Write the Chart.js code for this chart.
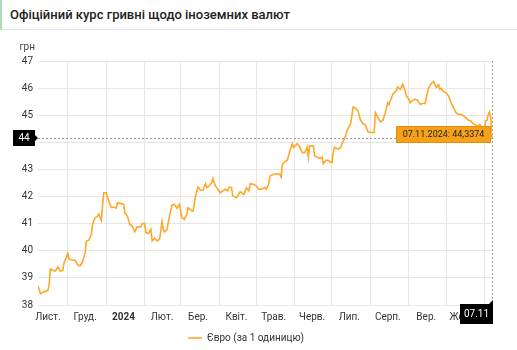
<!DOCTYPE html>
<html>
<head>
<meta charset="utf-8">
<script src="https://cdn.jsdelivr.net/npm/chart.js@4.4.1/dist/chart.umd.min.js"></script>
<style>
  html, body { margin: 0; padding: 0; background: #fff; font-family: Roboto, sans-serif; overflow: hidden; }
  .head {
    height: 29px; line-height: 29px; padding-left: 8px;
    border-left: 2px solid #a8dcb8; border-bottom: 1px solid #e6e6e6;
    box-shadow: 0 1px 2px rgba(0,0,0,0.06);
    font-size: 13px; font-weight: 500; color: #222;
  }
  .chart { position: absolute; left: 0; top: 31px; width: 517px; height: 322px; }
</style>
</head>
<body>
<div class="head">Офіційний курс гривні щодо іноземних валют</div>
<div class="chart"><canvas id="eurRateChart"></canvas></div>
<script>
// EUR official rate, days counted from startDate
const startDate = '2023-11-07';
const dayOffsets = [
  0, 2, 5, 8, 9, 10, 12, 14, 16, 18, 20, 21, 24, 25, 28, 30, 32, 34, 36, 38,
  39, 41, 43, 44, 46, 48, 49, 51, 53, 55, 56, 57, 59, 61, 63, 64, 67, 69, 70, 72,
  74, 76, 78, 80, 83, 84, 86, 87, 89, 91, 92, 94, 96, 98, 100, 101, 102, 104, 106, 108,
  110, 112, 114, 116, 118, 120, 121, 124, 125, 127, 129, 131, 133, 135, 136, 138, 140, 141, 143, 144,
  147, 149, 151, 153, 154, 156, 157, 160, 161, 163, 166, 168, 170, 171, 174, 176, 178, 180, 183, 184,
  186, 187, 190, 192, 195, 196, 197, 199, 201, 203, 205, 206, 209, 211, 213, 215, 217, 218, 219, 222,
  223, 225, 227, 229, 230, 232, 234, 235, 237, 238, 239, 242, 244, 246, 248, 249, 252, 253, 254, 256,
  258, 260, 262, 264, 266, 269, 271, 272, 274, 276, 278, 280, 282, 283, 286, 289, 290, 292, 294, 296,
  297, 299, 300, 302, 304, 306, 308, 310, 312, 313, 315, 317, 319, 320, 321, 323, 324, 325, 327, 329,
  331, 333, 335, 337, 339, 341, 343, 345, 347, 349, 350, 352, 354, 356, 358, 360, 361, 362, 363, 364,
  365, 366
];
const rates = [
  38.70, 38.42, 38.49, 38.54, 38.76, 39.32, 39.28, 39.25, 39.40, 39.25, 39.28, 39.56, 39.91, 39.69, 39.65, 39.65, 39.48, 39.45, 39.60, 39.93,
  40.36, 40.39, 40.61, 40.98, 41.22, 41.28, 41.35, 41.12, 42.14, 42.14, 41.96, 41.84, 41.59, 41.61, 41.57, 41.77, 41.74, 41.71, 41.40, 41.28,
  40.98, 40.91, 40.70, 40.88, 40.88, 41.00, 41.00, 40.67, 40.64, 40.79, 40.36, 40.46, 40.36, 40.42, 41.07, 40.79, 40.70, 40.79, 41.28, 41.69,
  41.71, 41.57, 41.71, 41.22, 41.16, 41.35, 41.59, 41.47, 41.47, 42.02, 42.35, 42.23, 42.23, 42.47, 42.33, 42.39, 42.51, 42.67, 42.39, 42.33,
  42.14, 42.21, 42.27, 42.21, 42.35, 42.33, 42.02, 41.96, 42.02, 42.18, 42.08, 42.33, 42.21, 42.47, 42.45, 42.39, 42.27, 42.27, 42.33, 42.27,
  42.45, 42.76, 42.82, 42.84, 42.82, 42.72, 43.19, 43.29, 43.34, 43.68, 43.95, 43.81, 43.95, 43.83, 43.62, 43.62, 43.83, 43.46, 43.87, 43.87,
  43.50, 43.46, 43.41, 43.46, 43.21, 43.34, 43.34, 43.29, 43.25, 43.62, 43.81, 43.75, 43.81, 44.05, 44.23, 44.42, 44.69, 44.97, 45.30, 45.26,
  45.16, 44.81, 44.69, 44.64, 44.39, 44.36, 44.36, 45.09, 44.91, 44.76, 44.81, 45.09, 45.46, 45.40, 45.77, 45.92, 46.04, 45.95, 46.14, 45.89,
  45.71, 45.59, 45.46, 45.55, 45.59, 45.55, 45.40, 45.43, 45.43, 45.65, 46.02, 46.17, 46.24, 46.14, 46.02, 46.12, 45.95, 45.99, 45.87, 45.83,
  45.71, 45.46, 45.28, 45.09, 45.03, 45.03, 44.97, 44.91, 44.81, 44.79, 44.72, 44.66, 44.60, 44.66, 44.54, 44.57, 44.79, 44.81, 45.03, 45.13,
  44.91, 44.3374
];
const monthLabels = ['Лист.', 'Груд.', '2024', 'Лют.', 'Бер.', 'Квіт.', 'Трав.', 'Черв.', 'Лип.', 'Серп.', 'Вер.', 'Жовт.'];
const seriesLabel = 'Євро (за 1 одиницю)';
const yMin = 38, yMax = 47;

const DAY = 86400000;
const t0 = Date.parse(startDate + 'T00:00:00Z');
const dayOf = (y, m, d) => Math.round((Date.UTC(y, m, d) - t0) / DAY);
// grid at month starts, labels in the middle of each month
const monthStarts = [], labelDays = [];
for (let i = 0; i < monthLabels.length; i++) {
  const y = 2023 + Math.floor((10 + i) / 12), m = (10 + i) % 12;
  labelDays.push(dayOf(y, m, 15));
  monthStarts.push(dayOf(y, m + 1, 1));
}
const lastDay = dayOffsets[dayOffsets.length - 1];

const fmtDate = (off) => {
  const d = new Date(t0 + off * DAY);
  const p = n => String(n).padStart(2, '0');
  return p(d.getUTCDate()) + '.' + p(d.getUTCMonth() + 1) + '.' + d.getUTCFullYear();
};

const orange = '#ffa726';

// crosshair + tooltip on the last point, drawn by hand
const hoverPlugin = {
  id: 'hover',
  afterDraw(chart) {
    const { ctx, chartArea: a, scales } = chart;
    const pts = chart.getDatasetMeta(0).data;
    const p = pts[pts.length - 1];
    const i = rates.length - 1;
    const cy = Math.round(p.y) + 5; // mouse sits a bit under the point
    const px = Math.round(p.x);
    ctx.save();

    ctx.strokeStyle = '#a0a0a0';
    ctx.lineWidth = 1;
    ctx.setLineDash([2, 2]);
    ctx.beginPath();
    ctx.moveTo(a.left, cy + 0.5); ctx.lineTo(px, cy + 0.5);
    ctx.moveTo(px + 0.5, a.top); ctx.lineTo(px + 0.5, a.bottom);
    ctx.stroke();
    ctx.setLineDash([]);

    // y label box
    ctx.fillStyle = '#000';
    ctx.fillRect(13, cy - 8, 22, 16);
    ctx.beginPath();
    ctx.moveTo(35, cy - 3); ctx.lineTo(38, cy); ctx.lineTo(35, cy + 3); ctx.fill();
    ctx.fillStyle = '#fff';
    ctx.font = '10px Roboto';
    ctx.textAlign = 'center'; ctx.textBaseline = 'middle';
    ctx.fillText(String(Math.floor(scales.y.getValueForPixel(cy))), 24, cy + 0.5);

    // x label box
    const bx = px + 1 - 33, by = Math.round(a.bottom) - 1;
    ctx.fillStyle = '#000';
    ctx.fillRect(bx, by, 33, 20);
    ctx.beginPath();
    ctx.moveTo(px + 1 - 4, by); ctx.lineTo(px + 1, by - 4); ctx.lineTo(px + 1, by); ctx.fill();
    ctx.fillStyle = '#fff';
    ctx.fillText(fmtDate(dayOffsets[i]).slice(0, 5), bx + 16.5, by + 10.5);

    // value tooltip
    const text = fmtDate(dayOffsets[i]) + ': ' + rates[i].toFixed(4).replace('.', ',');
    ctx.font = '9px Roboto';
    const w = Math.ceil(ctx.measureText(text).width) + 12;
    const tx = px - 2 - w, ty = Math.round(p.y) - 7;
    ctx.fillStyle = '#f7a11a';
    ctx.strokeStyle = '#e08e0b';
    ctx.beginPath();
    ctx.rect(tx + 0.5, ty + 0.5, w, 16);
    ctx.fill(); ctx.stroke();
    ctx.beginPath();
    ctx.moveTo(px - 2, ty + 6); ctx.lineTo(px + 1, ty + 10); ctx.lineTo(px - 2, ty + 13); ctx.fill();
    ctx.fillStyle = '#222';
    ctx.fillText(text, tx + w / 2 + 0.5, ty + 9);

    // unit label
    ctx.fillStyle = '#444';
    ctx.font = '10px Roboto';
    ctx.textAlign = 'right';
    ctx.fillText('грн', 35, a.top - 14);
    ctx.restore();
  }
};

Chart.defaults.font.family = 'Roboto, sans-serif';
Chart.defaults.font.size = 10;
Chart.defaults.color = '#333';

new Chart(document.getElementById('eurRateChart'), {
  type: 'line',
  data: {
    datasets: [{
      label: seriesLabel,
      data: dayOffsets.map((d, i) => ({ x: d, y: rates[i] })),
      borderColor: orange,
      backgroundColor: orange,
      borderWidth: 1.6,
      pointRadius: 0,
      tension: 0
    }]
  },
  options: {
    responsive: true,
    maintainAspectRatio: false,
    animation: false,
    events: [],
    layout: { padding: { left: 0, right: 25, top: 30, bottom: 0 } },
    plugins: {
      tooltip: { enabled: false },
      legend: {
        position: 'bottom',
        labels: {
          usePointStyle: true,
          pointStyle: 'line',
          pointStyleWidth: 14,
          padding: 8,
          color: '#333',
          font: { size: 10 }
        }
      }
    },
    scales: {
      x: {
        type: 'linear', min: 0, max: lastDay,
        afterBuildTicks: s => { s.ticks = monthStarts.map(v => ({ value: v })); },
        ticks: { display: false },
        grid: { color: '#e6e6e6', drawTicks: false },
        border: { display: false }
      },
      x2: {
        type: 'linear', position: 'bottom', min: 0, max: lastDay,
        afterBuildTicks: s => { s.ticks = labelDays.map(v => ({ value: v })); },
        afterFit: s => { s.height = 20; },
        ticks: {
          autoSkip: false, maxRotation: 0, padding: 6,
          callback: (v, i) => monthLabels[i],
          font: c => ({ size: 10, weight: c.tick && c.tick.label === '2024' ? 'bold' : 'normal' })
        },
        grid: { display: false, drawTicks: false },
        border: { display: false }
      },
      y: {
        min: yMin, max: yMax,
        afterFit: s => { s.width = 38; },
        ticks: { stepSize: 1, padding: 5 },
        grid: { color: '#e6e6e6', drawTicks: false },
        border: { display: false }
      }
    }
  },
  plugins: [hoverPlugin]
});
</script>
</body>
</html>
